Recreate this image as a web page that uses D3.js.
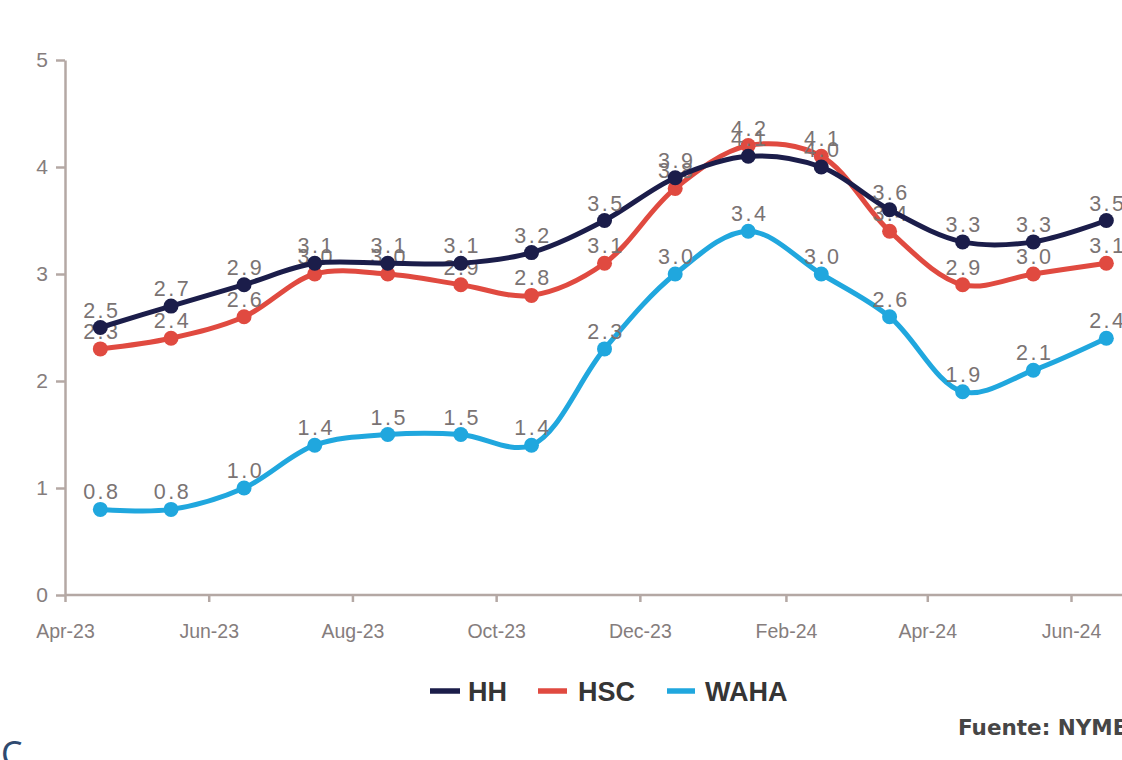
<!DOCTYPE html>
<html>
<head>
<meta charset="utf-8">
<script src="https://cdn.jsdelivr.net/npm/d3@7"></script>
<style>
  html, body { margin: 0; padding: 0; background: #ffffff; overflow: hidden; }
  svg { display: block; }
</style>
</head>
<body>
<svg id="chart" width="1122" height="760"></svg>
<script>
// Monthly gas prices (US$/MMBtu), one point per month, mid-month
const months = ["2023-04-16","2023-05-16","2023-06-16","2023-07-16","2023-08-16","2023-09-16",
                "2023-10-16","2023-11-16","2023-12-16","2024-01-16","2024-02-16","2024-03-16",
                "2024-04-16","2024-05-16","2024-06-16"];
const hh   = [2.5, 2.7, 2.9, 3.1, 3.1, 3.1, 3.2, 3.5, 3.9, 4.1, 4.0, 3.6, 3.3, 3.3, 3.5];
const hsc  = [2.3, 2.4, 2.6, 3.0, 3.0, 2.9, 2.8, 3.1, 3.8, 4.2, 4.1, 3.4, 2.9, 3.0, 3.1];
const waha = [0.8, 0.8, 1.0, 1.4, 1.5, 1.5, 1.4, 2.3, 3.0, 3.4, 3.0, 2.6, 1.9, 2.1, 2.4];

const seriesNames  = ["HH", "HSC", "WAHA"];
const seriesColors = ["#1b1d4a", "#e04a40", "#20a7de"];

const xTickDates = ["2023-04-01","2023-06-01","2023-08-01","2023-10-01","2023-12-01",
                    "2024-02-01","2024-04-01","2024-06-01"];
const yTicks = [0, 1, 2, 3, 4, 5];

const parse = d3.utcParse("%Y-%m-%d");
const dates = months.map(parse);

const svg = d3.select("#chart");
const FONT = "'Liberation Sans', Arial, sans-serif";

const x = d3.scaleUtc()
  .domain([parse("2023-04-01"), parse("2024-06-01")])
  .range([65, 1071]);
const y = d3.scaleLinear().domain([0, 5]).range([595, 60]);

const axisColor = "#b4a8a4";
const tickTextColor = "#857d7d";

// Y axis
const gy = svg.append("g")
  .attr("transform", "translate(65,0)")
  .call(d3.axisLeft(y).tickValues(yTicks).tickFormat(d3.format("d"))
    .tickSize(9).tickSizeOuter(0).tickPadding(8));
gy.select(".domain").attr("stroke", axisColor).attr("stroke-width", 2.5);
gy.selectAll(".tick line").attr("stroke", axisColor).attr("stroke-width", 2.5);
gy.selectAll(".tick text")
  .attr("fill", tickTextColor).style("font-family", FONT).style("font-size", "21px");

// X axis
const gx = svg.append("g")
  .attr("transform", "translate(0,595)")
  .call(d3.axisBottom(x).tickValues(xTickDates.map(parse)).tickFormat(d3.utcFormat("%b-%y"))
    .tickSize(7).tickSizeOuter(0).tickPadding(22));
gx.select(".domain").attr("stroke", axisColor).attr("stroke-width", 2.5)
  .attr("d", "M65,0H1130");
gx.selectAll(".tick line").attr("stroke", axisColor).attr("stroke-width", 2.5);
gx.selectAll(".tick text")
  .attr("fill", tickTextColor).style("font-family", FONT).style("font-size", "19.5px");

// Series: drawn WAHA first, HH last so it sits on top
const allSeries = [hh, hsc, waha];
const line = d3.line()
  .x((d, i) => x(dates[i]))
  .y(d => y(d))
  .curve(d3.curveCatmullRom.alpha(0.5));

[2, 1, 0].forEach(k => {
  const vals = allSeries[k];
  const col = seriesColors[k];
  const g = svg.append("g").attr("class", "series-" + seriesNames[k]);
  g.append("path").datum(vals)
    .attr("d", line)
    .attr("fill", "none")
    .attr("stroke", col)
    .attr("stroke-width", 5)
    .attr("stroke-linejoin", "round");
  g.selectAll("circle").data(vals).join("circle")
    .attr("cx", (d, i) => x(dates[i]))
    .attr("cy", d => y(d))
    .attr("r", 7.5)
    .attr("fill", col);
  g.selectAll("text").data(vals).join("text")
    .attr("x", (d, i) => x(dates[i]) + 1.5)
    .attr("y", d => y(d) - 10)
    .attr("text-anchor", "middle")
    .attr("fill", "#7a7373")
    .style("font-family", FONT)
    .style("font-size", "21.5px")
    .style("letter-spacing", "2.5px")
    .text(d => d3.format(".1f")(d));
});

// Legend
const legendItems = [
  { x: 430, w: 30, tx: 468 },
  { x: 538, w: 29, tx: 578 },
  { x: 667, w: 28, tx: 705 }
];
const legend = svg.append("g");
seriesNames.forEach((name, i) => {
  const it = legendItems[i];
  legend.append("line")
    .attr("x1", it.x).attr("x2", it.x + it.w)
    .attr("y1", 691).attr("y2", 691)
    .attr("stroke", seriesColors[i]).attr("stroke-width", 5.5);
  legend.append("text")
    .attr("x", it.tx).attr("y", 701)
    .attr("fill", "#353535")
    .style("font-family", FONT).style("font-weight", "bold").style("font-size", "27px")
    .text(name);
});

// Source note
svg.append("text")
  .attr("x", 958).attr("y", 735)
  .attr("fill", "#464646")
  .style("font-family", "'DejaVu Sans', sans-serif").style("font-weight", "bold").style("font-size", "21.5px")
  .text("Fuente: NYMEX");

// Section letter at lower left
svg.append("text")
  .attr("x", 1).attr("y", 766)
  .attr("fill", "#2f4a70")
  .style("font-family", "'Noto Sans', sans-serif").style("font-size", "34px")
  .text("C");
</script>
</body>
</html>
